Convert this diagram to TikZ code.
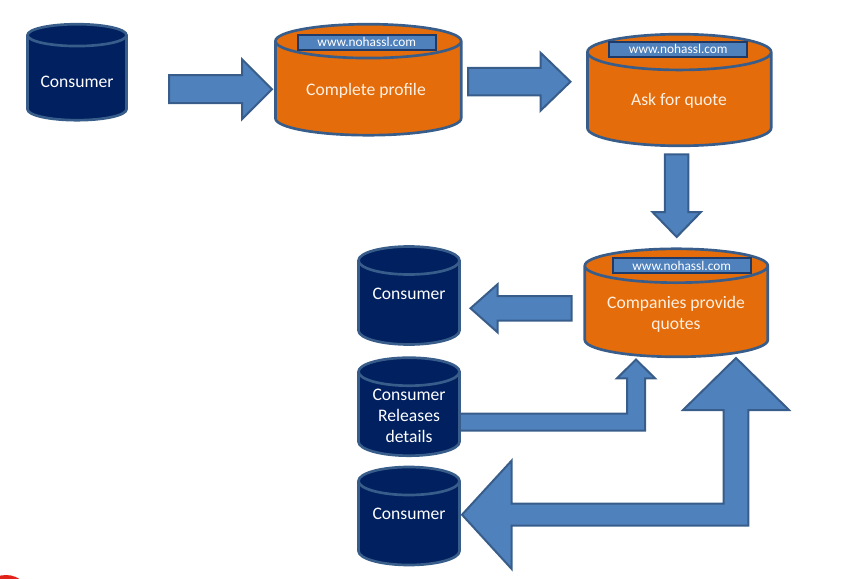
\documentclass[tikz,border=0pt]{standalone}
\usepackage{fontspec}
\setmainfont{Carlito}
\usetikzlibrary{calc}
\definecolor{navy}{HTML}{002060}
\definecolor{pumpkin}{HTML}{E46C0A}
\definecolor{steel}{HTML}{4F81BD}
\definecolor{rim}{HTML}{385D8A}
\definecolor{urlrim}{HTML}{1F3A66}
\definecolor{cream}{HTML}{FFF0E2}
\definecolor{signalred}{HTML}{E2231A}
\tikzset{
  drumbox/.style={rectangle, inner sep=0pt, outer sep=0pt},
  drum/.style 2 args={draw=rim, line width=2pt, fill=#1,
    to path={let \p1=(\tikztostart), \p2=(\tikztotarget), \n1={(\x2-\x1)/2} in
      (\x1,\y1-#2) -- (\x1,\y2+#2) arc[start angle=180, end angle=360, x radius=\n1, y radius=#2]
      -- (\x2,\y1-#2) arc[start angle=0, end angle=180, x radius=\n1, y radius=#2] -- cycle
      (\x1,\y1-#2) arc[start angle=180, end angle=360, x radius=\n1, y radius=#2]}},
  fat/.style n args={3}{draw=rim, line width=1.5pt, fill=steel,
    to path={let \p1=($(\tikztotarget)-(\tikztostart)$), \n1={atan2(\y1,\x1)}, \n2={veclen(\x1,\y1)} in
      {[shift={(\tikztostart)}, rotate=\n1] (0pt,-#1) -- (\n2-#3,-#1) -- (\n2-#3,-#2) -- (\n2,0pt)
       -- (\n2-#3,#2) -- (\n2-#3,#1) -- (0pt,#1) -- cycle}}},
  bent/.style={draw=rim, line width=1.5pt, fill=steel},
  url/.style={draw=urlrim, line width=1.5pt, fill=steel, text=white, font=\fontsize{10}{12}\selectfont,
    minimum width=103.5pt, minimum height=11.25pt, inner sep=0pt},
  drumtext/.style={font=\fontsize{13.2}{15.75}\selectfont, text=white, align=center, inner sep=0pt},
  ordertext/.style={drumtext, text=cream}
}
\begin{document}
\begin{tikzpicture}[x=0.75pt, y=-0.75pt, line join=miter]
\useasboundingbox (0,0) rectangle (849,578);
\fill[signalred] (6,600) circle[radius=25];

\coordinate (a1s) at (169,89.2);
\coordinate (a1e) at (272,89.2);
\coordinate (a2s) at (468,81.7);
\coordinate (a2e) at (570.5,81.7);
\coordinate (a3s) at (676.7,154.3);
\coordinate (a3e) at (676.7,237);
\coordinate (a4s) at (571.7,308.3);
\coordinate (a4e) at (470.5,308.3);
\draw[fat={10.5pt}{22.5pt}{22.5pt}] (a1s) to (a1e);
\draw[fat={10.3pt}{21.75pt}{22.5pt}] (a2s) to (a2e);
\draw[fat={8.8pt}{18.2pt}{18.75pt}] (a3s) to (a3e);
\draw[fat={9.2pt}{18pt}{20.25pt}] (a4s) to (a4e);
\draw[bent] (459,413.7) -- (627,413.7) -- (627,378.3) -- (617,378.3) -- (636,359.5) -- (655,378.3)
  -- (645,378.3) -- (645,430.7) -- (459,430.7) -- cycle;
\draw[bent] (736,358) -- (789,410) -- (748.3,410) -- (748.3,525.7) -- (511.7,525.7) -- (511.7,569)
  -- (462,514.7) -- (511.7,460.5) -- (511.7,503.7) -- (723.7,503.7) -- (723.7,410) -- (683,410) -- cycle;

\node[drumbox, minimum width=74.25pt, minimum height=72pt]  (cons1)     at (77,72.2)    {};
\node[drumbox, minimum width=139.3pt, minimum height=83.25pt] (profile)  at (368.3,79.7) {};
\node[drumbox, minimum width=137.8pt, minimum height=83.7pt]  (quote)    at (679.3,90)   {};
\node[drumbox, minimum width=137.25pt, minimum height=81pt]   (companies) at (676.3,302.8) {};
\node[drumbox, minimum width=75.75pt, minimum height=73.5pt]  (cons2)    at (409,295.5)  {};
\node[drumbox, minimum width=75.75pt, minimum height=73.5pt]  (releases) at (409,406.7)  {};
\node[drumbox, minimum width=75.75pt, minimum height=73.5pt]  (cons3)    at (409,516)    {};
\draw[drum={navy}{8.2pt}]     (cons1.north west) to (cons1.south east);
\draw[drum={pumpkin}{12.7pt}] (profile.north west) to (profile.south east);
\draw[drum={pumpkin}{13.4pt}] (quote.north west) to (quote.south east);
\draw[drum={pumpkin}{12.7pt}] (companies.north west) to (companies.south east);
\draw[drum={navy}{10.5pt}]    (cons2.north west) to (cons2.south east);
\draw[drum={navy}{10.5pt}]    (releases.north west) to (releases.south east);
\draw[drum={navy}{10.5pt}]    (cons3.north west) to (cons3.south east);

\node[url] (profile-url)   at (366.8,42.3)  {www.nohassl.com};
\node[url] (quote-url)     at (678.3,49.2)  {www.nohassl.com};
\node[url] (companies-url) at (681.7,265.8) {www.nohassl.com};

\node[drumtext]  (cons1-t)     at (77,81.5)    {Consumer};
\node[ordertext] (profile-t)   at (366,90.5)   {Complete profile};
\node[ordertext] (quote-t)     at (679,100.5)  {Ask for quote};
\node[ordertext] (companies-t) at (676,314.1)  {Companies provide\\quotes};
\node[drumtext]  (cons2-t)     at (409,294.2)  {Consumer};
\node[drumtext]  (releases-t)  at (409,415.5)  {Consumer\\Releases\\details};
\node[drumtext]  (cons3-t)     at (409,514.2)  {Consumer};
\end{tikzpicture}
\end{document}
